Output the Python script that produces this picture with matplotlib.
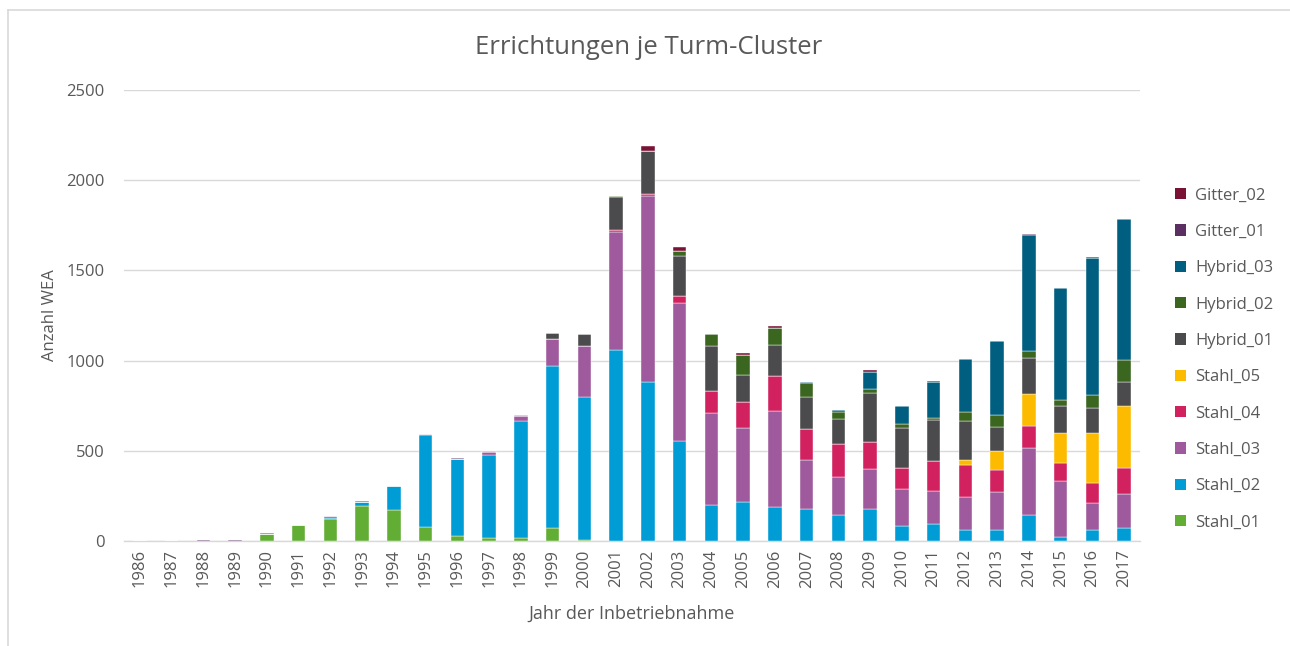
import matplotlib.pyplot as plt
from matplotlib.patches import Patch
from matplotlib.lines import Line2D

years = [str(y) for y in range(1986, 2018)]

# values per year 1986..2017, stacked bottom -> top
stahl_01 = [0, 0, 0, 0, 38, 90, 122, 194, 172, 78, 28, 18, 18, 74, 7, 0,
            0, 0, 0, 0, 0, 0, 0, 0, 0, 0, 0, 0, 0, 0, 0, 0]
stahl_02 = [0, 0, 0, 0, 0, 0, 8, 22, 134, 508, 425, 457, 647, 898, 789, 1056,
            883, 552, 200, 215, 189, 176, 143, 176, 83, 93, 59, 59, 143, 24, 61, 74]
stahl_03 = [0, 0, 0, 0, 0, 0, 6, 0, 0, 5, 0, 17, 26, 146, 286, 659,
            1030, 765, 511, 411, 533, 272, 209, 222, 206, 185, 185, 213, 370, 306, 150, 187]
stahl_04 = [0, 0, 0, 0, 0, 0, 0, 0, 0, 0, 0, 0, 0, 0, 0, 7,
            13, 40, 121, 143, 193, 174, 187, 152, 115, 166, 176, 121, 126, 103, 108, 145]
stahl_05 = [0, 0, 0, 0, 0, 0, 0, 0, 0, 0, 0, 0, 0, 0, 0, 0,
            0, 0, 0, 0, 0, 0, 0, 0, 0, 0, 30, 107, 176, 165, 279, 344]
hybrid_01 = [0, 0, 0, 0, 0, 0, 0, 0, 0, 0, 0, 7, 7, 37, 63, 185,
             237, 221, 250, 153, 172, 174, 139, 270, 220, 228, 217, 132, 198, 152, 141, 133]
hybrid_02 = [0, 0, 0, 0, 0, 0, 0, 0, 0, 0, 0, 0, 0, 0, 0, 5,
             0, 28, 63, 110, 93, 80, 35, 23, 24, 10, 50, 68, 39, 33, 70, 123]
hybrid_03 = [0, 0, 0, 0, 0, 0, 0, 0, 0, 0, 0, 0, 0, 0, 0, 0,
             0, 0, 0, 0, 0, 5, 15, 92, 98, 201, 290, 406, 645, 619, 759, 779]
gitter_01 = [0, 0, 7, 7, 7, 0, 0, 6, 0, 0, 5, 0, 0, 0, 0, 0,
             0, 0, 0, 0, 0, 0, 0, 0, 0, 0, 0, 0, 5, 0, 0, 0]
gitter_02 = [0, 0, 0, 0, 0, 0, 0, 0, 0, 0, 0, 0, 0, 0, 0, 3,
             26, 22, 5, 11, 11, 2, 0, 11, 0, 5, 0, 0, 0, 0, 7, 0]

series = [
    ('Stahl_01', stahl_01, '#62AE35'),
    ('Stahl_02', stahl_02, '#009CD6'),
    ('Stahl_03', stahl_03, '#9E5A9C'),
    ('Stahl_04', stahl_04, '#D2215F'),
    ('Stahl_05', stahl_05, '#FDBB00'),
    ('Hybrid_01', hybrid_01, '#4B4B4D'),
    ('Hybrid_02', hybrid_02, '#3A6620'),
    ('Hybrid_03', hybrid_03, '#005E80'),
    ('Gitter_01', gitter_01, '#5B2F62'),
    ('Gitter_02', gitter_02, '#7A1236'),
]

plt.rcParams['font.family'] = ['Open Sans', 'DejaVu Sans']
txt = '#595959'

fig = plt.figure(figsize=(12.9, 6.46), dpi=100)
ax = fig.add_axes([124 / 1290, 105 / 646, 1016 / 1290, 451 / 646])

x = list(range(len(years)))
bottom = [0] * len(years)
for name, vals, col in series:
    ax.bar(x, vals, 0.42, bottom=bottom, color=col, label=name,
           edgecolor='white', linewidth=0.3, zorder=3)
    bottom = [b + v for b, v in zip(bottom, vals)]

ax.set_xlim(-0.5, len(years) - 0.5)
ax.set_ylim(0, 2500)
ax.set_yticks(range(0, 2501, 500))
ax.set_xticks(x)
ax.set_xticklabels(years, rotation=90)
ax.tick_params(length=0, colors=txt, labelsize=12)
ax.tick_params(axis='x', pad=6)
ax.tick_params(axis='y', pad=14)
ax.grid(axis='y', color='#D9D9D9', linewidth=1, zorder=0)
for s in ['top', 'right', 'left']:
    ax.spines[s].set_visible(False)
ax.spines['bottom'].set_color('#D9D9D9')
ax.spines['bottom'].set_linewidth(1)

ax.set_ylabel('Anzahl WEA', color=txt, fontsize=12, labelpad=20)
ax.set_xlabel('Jahr der Inbetriebnahme', color=txt, fontsize=13, labelpad=12)
ax.yaxis.set_label_coords(-66 / 1016, 0.5)
fig.text(0.503, 1 - 47 / 646, 'Errichtungen je Turm-Cluster', color=txt,
         fontsize=18.5, ha='center', va='center')

handles = [Patch(facecolor=c, edgecolor='none') for _, _, c in series][::-1]
labels = [n for n, _, _ in series][::-1]
leg = fig.legend(handles, labels, loc='center left',
                 bbox_to_anchor=(1160 / 1290, 1 - 359 / 646), frameon=False,
                 fontsize=12, labelspacing=1.22, handlelength=0.65,
                 handleheight=0.65, handletextpad=0.55)
for t in leg.get_texts():
    t.set_color(txt)

# outer chart frame
fig.add_artist(Line2D([8 / 1290, 8 / 1290], [0, 1 - 10 / 646],
                      color='#D9D9D9', linewidth=1.2))
fig.add_artist(Line2D([8 / 1290, 1], [1 - 10 / 646, 1 - 10 / 646],
                      color='#D9D9D9', linewidth=1.2))

fig.savefig('out.png', dpi=100)
